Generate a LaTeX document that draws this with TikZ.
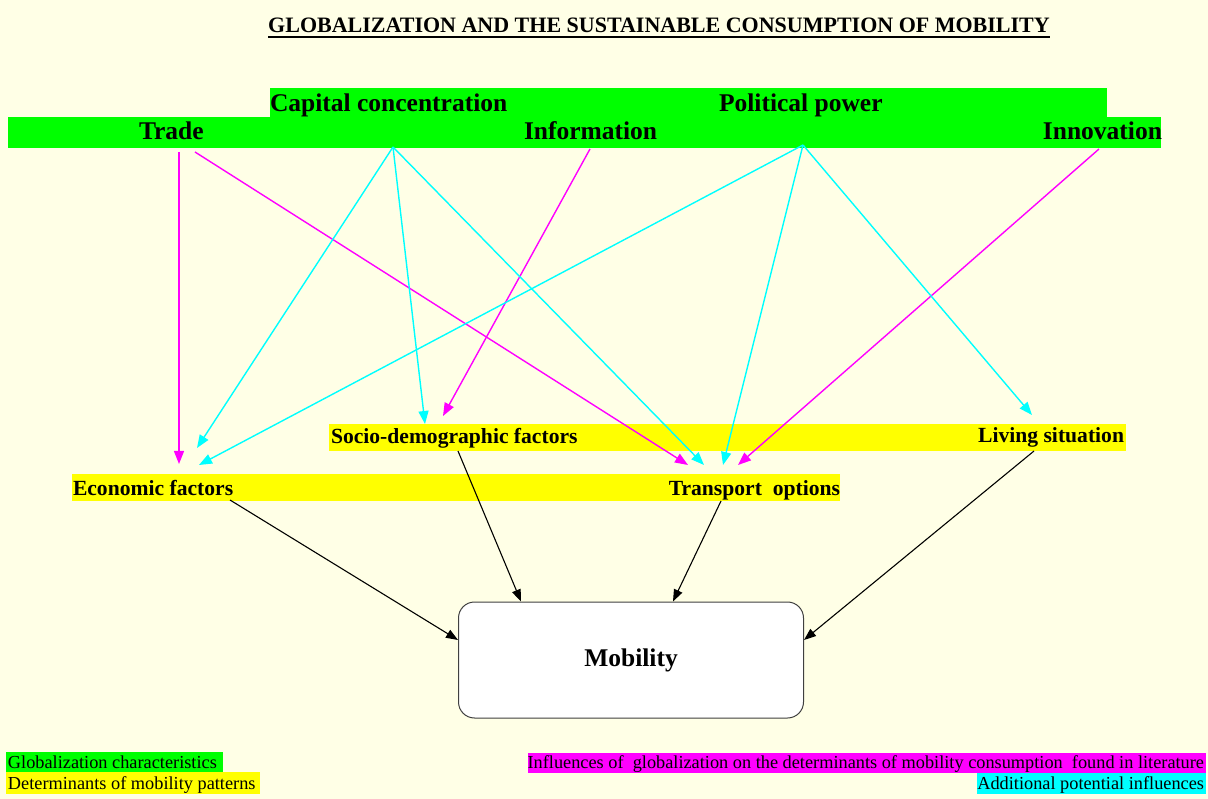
\documentclass[tikz,border=0pt]{standalone}
\usepackage{fontspec}
\setmainfont{Liberation Serif}
\usepackage{xcolor}
\usepackage{tikz}
\usetikzlibrary{arrows.meta}

\begin{document}
\begin{tikzpicture}[x=1pt,y=-1pt,
  bandLabel/.style={text=black,anchor=base west,inner sep=0pt,outer sep=0pt,font=\fontsize{25.5}{28}\selectfont\bfseries},
  factorLabel/.style={bandLabel,font=\fontsize{21.6}{24}\selectfont\bfseries},
  keyLabel/.style={text=black,anchor=base west,inner sep=0pt,outer sep=0pt,font=\fontsize{18.3}{20}\selectfont},
  litArrow/.style={draw=litColor,line width=1.4pt,-{Triangle[length=13pt,width=10pt]}},
  extraArrow/.style={litArrow,draw=extraColor},
  mobArrow/.style={draw=black,line width=1.1pt,-{Triangle[length=12pt,width=9pt]}}]
\definecolor{fillColor}{RGB}{255,255,230}
\definecolor{globeColor}{RGB}{0,255,0}
\definecolor{determColor}{RGB}{255,255,0}
\definecolor{litColor}{RGB}{255,0,255}
\definecolor{extraColor}{RGB}{0,255,255}
\path[use as bounding box,fill=fillColor] (0,0) rectangle (1208,799);

% title
\node[bandLabel,anchor=base,font=\fontsize{22}{24}\selectfont\bfseries] (title) at (659,33) {GLOBALIZATION AND THE SUSTAINABLE CONSUMPTION OF MOBILITY};
\path[draw=black,line width=1.6pt] ([yshift=-4pt]title.base west) -- ([yshift=-4pt]title.base east);

% bands
\path[fill=globeColor] ( 270, 88) rectangle (1107,117);
\path[fill=globeColor] (   8,117) rectangle (1161,148);
\path[fill=determColor] ( 329,424) rectangle (1126,451);
\path[fill=determColor] (  72,474) rectangle ( 840,501);

\node[bandLabel] (capital) at ( 270,112) {Capital concentration};
\node[bandLabel] (political) at ( 719,112) {Political power};
\node[bandLabel] (trade) at ( 139,140) {Trade};
\node[bandLabel] (information) at ( 524,140) {Information};
\node[bandLabel,anchor=base east] (innovation) at (1162,140) {Innovation};

\node[factorLabel] (socio) at ( 331,444) {Socio-demographic factors};
\node[factorLabel,anchor=base east] (living) at (1124,443) {Living situation};
\node[factorLabel] (economic) at (  73,495) {Economic factors};
\node[factorLabel,anchor=base east] (transport) at ( 840,495) {Transport\ \ options};

\node[draw=black!75,fill=white,line width=1pt,rounded corners=16pt,minimum width=345pt,minimum height=116pt,inner sep=0pt,font=\fontsize{25.5}{28}\selectfont\bfseries] (mobility) at ( 631,660) {Mobility};

% ports
\coordinate (tradeDown) at ( 179,152);
\coordinate (tradeDiag) at ( 195,152);
\coordinate (capitalOut) at ( 393,147);
\coordinate (informationOut) at ( 590,149);
\coordinate (politicalOut) at ( 803,145);
\coordinate (innovationOut) at (1099,149);

\coordinate (economicInA) at ( 179,464);
\coordinate (economicInB) at ( 197,448);
\coordinate (economicInC) at ( 199,465);
\coordinate (socioInA) at ( 425,424);
\coordinate (socioInB) at ( 443,416);
\coordinate (transportInA) at ( 688,465);
\coordinate (transportInB) at ( 704,465);
\coordinate (transportInC) at ( 723,465);
\coordinate (transportInD) at ( 738,465);
\coordinate (livingIn) at (1032,415);

\coordinate (economicOut) at ( 230,500);
\coordinate (socioOut) at ( 458,451);
\coordinate (transportOut) at ( 721,501);
\coordinate (livingOut) at (1034,451);

% influences found in literature
\path[litArrow] (tradeDown) -- (economicInA);
\path[litArrow] (tradeDiag) -- (transportInA);
\path[litArrow] (informationOut) -- (socioInB);
\path[litArrow] (innovationOut) -- (transportInD);

% additional potential influences
\path[extraArrow] (capitalOut) -- (economicInB);
\path[extraArrow] (capitalOut) -- (socioInA);
\path[extraArrow] (capitalOut) -- (transportInB);
\path[extraArrow] (politicalOut) -- (economicInC);
\path[extraArrow] (politicalOut) -- (transportInC);
\path[extraArrow] (politicalOut) -- (livingIn);

% determinants to mobility
\path[mobArrow] (economicOut) -- ([yshift=20pt]mobility.west);
\path[mobArrow] (socioOut) -- ([xshift=-110pt]mobility.north);
\path[mobArrow] (transportOut) -- ([xshift=42pt]mobility.north);
\path[mobArrow] (livingOut) -- ([yshift=20pt]mobility.east);

% key
\path[fill=globeColor] (   6,752) rectangle ( 223,772);
\path[fill=determColor] (   6,772) rectangle ( 260,794);
\path[fill=litColor] ( 528,753) rectangle (1206,773);
\path[fill=extraColor] ( 977,773) rectangle (1206,794);

\node[keyLabel] (keyGlobe) at (   8,768) {Globalization characteristics};
\node[keyLabel] (keyDeterm) at (   8,789) {Determinants of mobility patterns};
\node[keyLabel,anchor=base east] (keyLit) at (1204,768) {Influences of\ \ globalization on the determinants of mobility consumption\ \ found in literature};
\node[keyLabel,anchor=base east] (keyExtra) at (1204,789) {Additional potential influences};
\end{tikzpicture}
\end{document}
